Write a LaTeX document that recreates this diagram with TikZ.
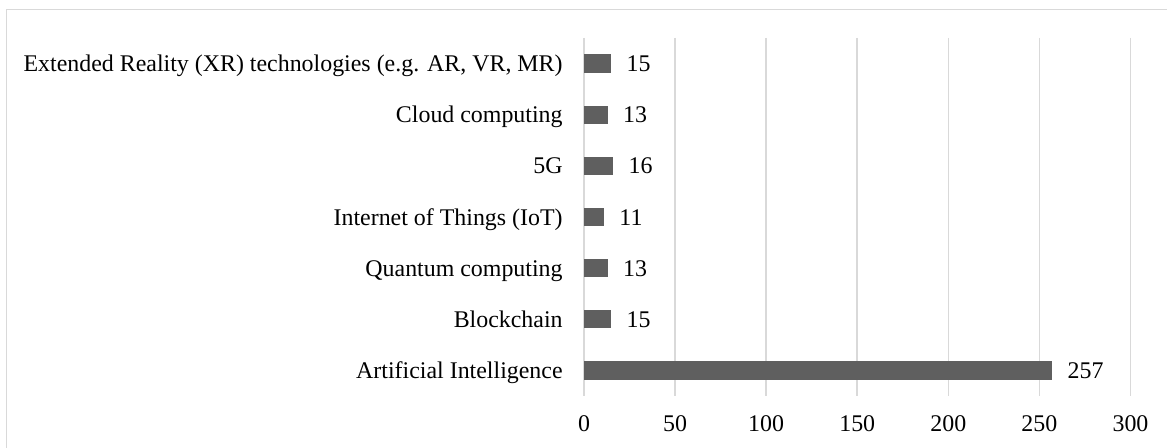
\documentclass[tikz,border=0pt]{standalone}
\usepackage{fontspec}
\setmainfont{Liberation Serif}
\definecolor{barGray}{HTML}{5F5F5F}
\definecolor{gridGray}{HTML}{D9D9D9}
\tikzstyle{bar}=[fill=barGray]
\tikzstyle{grid line}=[draw=gridGray, line width=0.8pt]
\tikzstyle{frame line}=[draw=gridGray, line width=0.8pt]
\tikzstyle{cat label}=[anchor=base east, inner sep=0pt]
\tikzstyle{value label}=[anchor=base west, inner sep=0pt]
\tikzstyle{tick label}=[anchor=base, inner sep=0pt]

\begin{document}
\begin{tikzpicture}[x=0.5pt, y=-0.5pt, font=\fontsize{11.95}{14}\selectfont]
    \useasboundingbox (0,0) rectangle (1167,448);
    % Draw the outer frame (only top and left edges are in view)
    \draw[frame line] (6.5,448) -- (6.5,9.5) -- (1167,9.5);

    % Gridlines with their tick labels
    \foreach \k/\lab in {0/0,1/50,2/100,3/150,4/200,5/250,6/300}
    {
        \draw[grid line] ({584+91.08*\k},38) -- ({584+91.08*\k},396);
        \node[tick label] (tick\k) at ({584+91.08*\k},432) {\lab};
    }

    % Now the bars, top to bottom
    \foreach \i/\name/\val/\txt in {0/xr/15/{Extended Reality (XR) technologies (e.g. AR, VR, MR)},
        1/cloud/13/{Cloud computing}, 2/fiveg/16/{5G}, 3/iot/11/{Internet of Things (IoT)},
        4/quantum/13/{Quantum computing}, 5/chain/15/{Blockchain}, 6/ai/257/{Artificial Intelligence}}
    {
        \path[bar] (584,{63.6+51.14*\i-9.2}) rectangle ({584+1.822*\val},{63.6+51.14*\i+9.2});
        \node[cat label] (\name) at (563,{63.6+51.14*\i+8}) {\txt};
        \node[value label] (\name val) at ({584+1.822*\val+15},{63.6+51.14*\i+8}) {\val};
    }
\end{tikzpicture}
\end{document}
